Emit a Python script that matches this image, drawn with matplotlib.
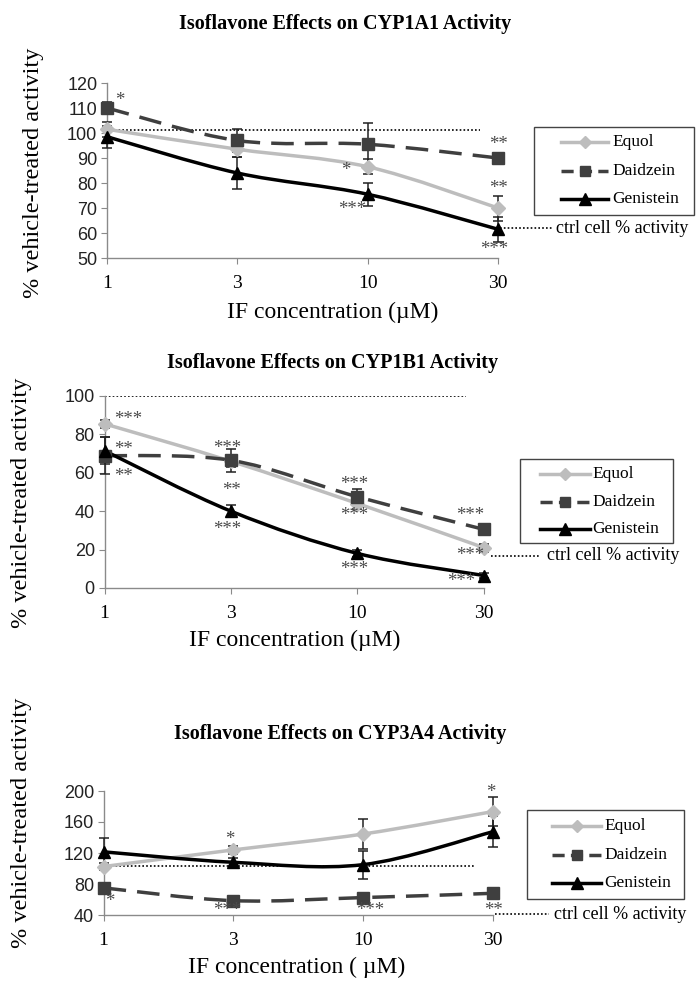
import numpy as np
import matplotlib
matplotlib.use('Agg')
import matplotlib.pyplot as plt
from matplotlib.path import Path
from matplotlib.patches import PathPatch, Rectangle
from matplotlib.lines import Line2D

# x categories (IF concentration, uM)
conc = ['1', '3', '10', '30']
names = ['Equol', 'Daidzein', 'Genistein']

# CYP1A1
a1_equol = [101.5, 93.5, 86.5, 70]
a1_equol_err = [3, 3, 3, 5]
a1_daid = [110, 97, 95.5, 90]
a1_daid_err = [2.5, 4.5, 8.5, 2]
a1_gen = [98.5, 84, 75.5, 61.5]
a1_gen_err = [4.5, 6.5, 4.5, 5]
a1_ref = 101
a1_stars = [('*', 0.1, 113), ('**', 3.0, 95.5), ('*', 1.83, 85), ('**', 3.0, 78),
            ('***', 1.88, 69.5), ('***', 2.97, 53.5)]

# CYP1B1
b1_equol = [85.5, 66, 44, 21]
b1_equol_err = [2, 3, 3, 2]
b1_daid = [69, 66.5, 47.5, 30.5]
b1_daid_err = [9.5, 6, 4, 2]
b1_gen = [71.5, 40, 18, 6.5]
b1_gen_err = [7, 3, 2, 1.5]
b1_ref = 100
b1_stars = [('***', 0.19, 87.5), ('**', 0.15, 72), ('**', 0.15, 58), ('***', 0.97, 72.5),
            ('**', 1.0, 51), ('***', 0.97, 30.5), ('***', 1.97, 54), ('***', 1.97, 37.5),
            ('***', 1.97, 9.5), ('***', 2.89, 37.5), ('***', 2.89, 17), ('***', 2.82, 3.5)]

# CYP3A4
a4_equol = [102.5, 124, 144.5, 173.5]
a4_equol_err = [4, 5, 19, 19]
a4_daid = [75, 58.5, 62.5, 68]
a4_daid_err = [4, 3, 3, 5]
a4_gen = [121.5, 108, 105, 147.5]
a4_gen_err = [18, 5, 18, 20]
a4_ref = 103
a4_stars = [('*', 0.05, 58), ('*', 0.97, 138), ('***', 0.95, 46), ('***', 2.05, 46),
            ('*', 2.98, 198), ('**', 3.0, 46)]

W, H = 698, 988
SERIF = 'Liberation Serif'
SANS = 'Liberation Sans'

EQ_COL = '#bdbdbd'
DA_COL = '#3f3f3f'
GE_COL = '#000000'
DASH = (0, (6.5, 3.2))
LEG_DASH = (0, (3.5, 1.8))
STYLES = [(EQ_COL, 'D', 7, '-'), (DA_COL, 's', 8.5, DASH), (GE_COL, '^', 9, '-')]


def fx(x):
    return x / W


def fy(y):
    return 1 - y / H


def smooth_path(xs, ys):
    # bezier curve through the points, like excel's smoothed line
    pts = np.column_stack([xs, ys]).astype(float)
    n = len(pts)
    verts = [pts[0]]
    codes = [Path.MOVETO]
    for i in range(n - 1):
        p0 = pts[i - 1] if i > 0 else pts[i]
        p1 = pts[i]
        p2 = pts[i + 1]
        p3 = pts[i + 2] if i + 2 < n else pts[i + 1]
        verts += [p1 + (p2 - p0) / 6, p2 - (p3 - p1) / 6, p2]
        codes += [Path.CURVE4] * 3
    return Path(verts, codes)


def draw_series(ax, ys, err, color, marker, ms, ls):
    xs = np.arange(len(ys))
    ax.add_patch(PathPatch(smooth_path(xs, ys), fill=False, edgecolor=color,
                           lw=2.5, linestyle=ls, zorder=3, clip_on=False))
    ax.errorbar(xs, ys, yerr=err, fmt='none', ecolor='#222222', elinewidth=1.1,
                capsize=3.5, capthick=1.1, zorder=4, clip_on=False)
    ax.plot(xs, ys, linestyle='none', marker=marker, ms=ms, color=color,
            zorder=5, clip_on=False)


def panel(rect, title, title_xy, ylim, yticks, data, ref, stars,
          xlabel, xlabel_xy, ylabel_xy, box, entry_y, line_x, ctrl):
    fig = plt.gcf()
    l, r, t, b = rect
    ax = fig.add_axes([fx(l), fy(b), fx(r) - fx(l), fy(t) - fy(b)])
    ax.set_xlim(0, 3)
    ax.set_ylim(*ylim)
    ax.set_yticks(yticks)
    ax.set_xticks(range(len(conc)))
    ax.set_xticklabels(conc, family=SERIF, fontsize=14)
    for lab in ax.get_yticklabels():
        lab.set_family(SANS)
        lab.set_fontsize(13)
        lab.set_color('#222222')
    for s in ['top', 'right']:
        ax.spines[s].set_visible(False)
    for s in ['left', 'bottom']:
        ax.spines[s].set_color('#8a8a8a')
        ax.spines[s].set_linewidth(1.0)
    ax.tick_params(axis='y', length=4, color='#8a8a8a', pad=3)
    ax.tick_params(axis='x', length=4, color='#8a8a8a', pad=8)

    ax.plot([0, 2.86], [ref, ref], linestyle=(0, (1, 1.3)), color='black',
            lw=1.2, zorder=2)

    for (ys, err), (color, marker, ms, ls) in zip(data, STYLES):
        draw_series(ax, ys, err, color, marker, ms, ls)

    for txt, x, y in stars:
        ax.text(x, y, txt, family=SERIF, fontsize=13.5, color='#4a4a4a',
                ha='center', va='center', zorder=6)

    fig.text(fx(title_xy[0]), fy(title_xy[1]), title, family=SERIF,
             fontweight='bold', fontsize=14.5, ha='center', va='center')
    fig.text(fx(xlabel_xy[0]), fy(xlabel_xy[1]), xlabel, family=SERIF,
             fontsize=17, ha='center', va='center')
    fig.text(fx(ylabel_xy[0]), fy(ylabel_xy[1]), '% vehicle-treated activity',
             family=SERIF, fontsize=17.5, rotation=90, ha='center', va='center')

    # legend drawn by hand so the box matches the original size
    bx0, by0, bx1, by1 = box
    fig.add_artist(Rectangle((fx(bx0), fy(by1)), fx(bx1) - fx(bx0), fy(by0) - fy(by1),
                             transform=fig.transFigure, fill=False,
                             edgecolor='#444444', lw=1.0))
    lx0, lx1, tx = line_x
    for name, ey, (color, marker, ms, ls) in zip(names, entry_y, STYLES):
        lls = LEG_DASH if ls != '-' else '-'
        fig.add_artist(Line2D([fx(lx0), fx(lx1)], [fy(ey), fy(ey)], color=color,
                              lw=2.5, linestyle=lls, transform=fig.transFigure))
        fig.add_artist(Line2D([fx((lx0 + lx1) / 2)], [fy(ey)], color=color,
                              marker=marker, ms=ms * 0.9, linestyle='none',
                              transform=fig.transFigure))
        fig.text(fx(tx), fy(ey), name, family=SERIF, fontsize=12.5,
                 ha='left', va='center')

    x0, x1, x2, y = ctrl
    fig.add_artist(Line2D([fx(x0), fx(x1)], [fy(y), fy(y)], linestyle=(0, (1, 1.3)),
                          color='black', lw=1.2, transform=fig.transFigure))
    fig.text(fx(x2), fy(y), 'ctrl cell % activity', family=SERIF, fontsize=13,
             ha='left', va='center')
    return ax


fig = plt.figure(figsize=(W / 100, H / 100), dpi=100)

panel((107, 498, 83, 258), 'Isoflavone Effects on CYP1A1 Activity', (345, 24),
      (50, 120), range(50, 121, 10),
      [(a1_equol, a1_equol_err), (a1_daid, a1_daid_err), (a1_gen, a1_gen_err)],
      a1_ref, a1_stars, 'IF concentration (\u00b5M)', (333, 312), (34, 173),
      (534, 127, 694, 215), (142, 171, 199), (561, 608, 612), (500, 552, 556, 228))

panel((104.5, 484, 396, 588), 'Isoflavone Effects on CYP1B1 Activity', (333, 363),
      (0, 100), range(0, 101, 20),
      [(b1_equol, b1_equol_err), (b1_daid, b1_daid_err), (b1_gen, b1_gen_err)],
      b1_ref, b1_stars, 'IF concentration (\u00b5M)', (295, 640), (22, 503),
      (520, 459, 673, 543), (474, 502, 529), (540, 590, 592), (491, 540, 547, 556))

panel((103.6, 493, 791, 915), 'Isoflavone Effects on CYP3A4 Activity', (340, 734),
      (40, 200), range(40, 201, 40),
      [(a4_equol, a4_equol_err), (a4_daid, a4_daid_err), (a4_gen, a4_gen_err)],
      a4_ref, a4_stars, 'IF concentration ( \u00b5M)', (297, 967), (22, 823),
      (527, 810, 684, 899), (826, 855, 883), (552, 601, 604), (495, 549, 554, 914))

fig.savefig('out.png', dpi=100)
